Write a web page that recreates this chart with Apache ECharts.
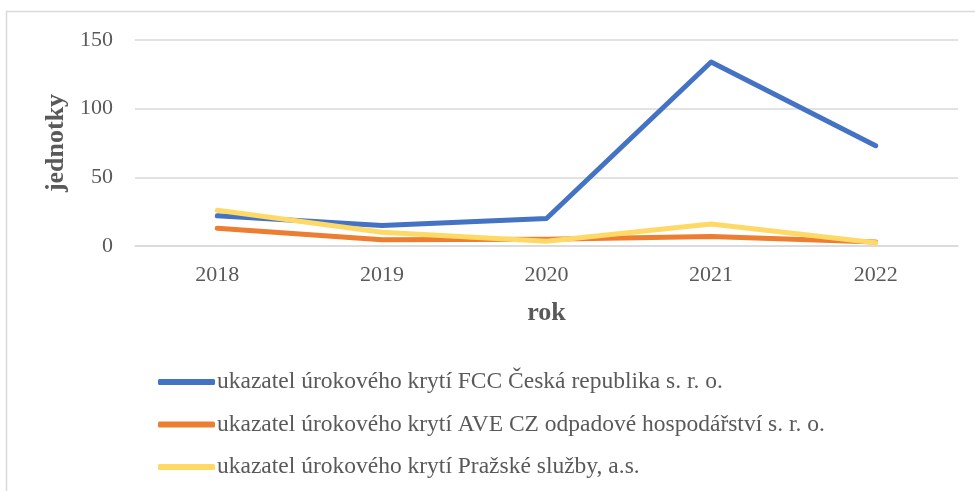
<!DOCTYPE html>
<html>
<head>
<meta charset="utf-8">
<script src="https://cdn.jsdelivr.net/npm/echarts@6/dist/echarts.min.js"></script>
<style>
  html, body { margin: 0; padding: 0; background: #ffffff; }
  #chart { width: 975px; height: 491px; }
</style>
</head>
<body>
<div id="chart"></div>
<script>
// data
const years = ["2018", "2019", "2020", "2021", "2022"];
const fccValues = [22, 15, 20, 134, 73];
const aveValues = [13, 4.5, 5, 7, 3];
const prazskeValues = [26, 10, 3.5, 16, 2.3];
const seriesNames = [
  "ukazatel úrokového krytí FCC Česká republika s. r. o.",
  "ukazatel úrokového krytí AVE CZ odpadové hospodářství s. r. o.",
  "ukazatel úrokového krytí Pražské služby, a.s."
];
const seriesColors = ["#4472C4", "#ED7D31", "#FFD966"];

const myChart = echarts.init(document.getElementById("chart"));
const font = "'Liberation Serif', 'Times New Roman', serif";

function lineSeries(i, data) {
  return {
    name: seriesNames[i],
    type: "line",
    data: data,
    showSymbol: false,
    symbol: "none",
    color: seriesColors[i],
    lineStyle: { width: 5, color: seriesColors[i], cap: "round", join: "round" },
    emphasis: { disabled: true }
  };
}

const option = {
  animation: false,
  backgroundColor: "#ffffff",
  textStyle: { fontFamily: font },
  graphic: [
    {
      type: "rect",
      shape: { x: 6.5, y: 11.5, width: 1000, height: 1000 },
      style: { fill: null, stroke: "#d9d9d9", lineWidth: 1.5 },
      silent: true
    }
  ],
  grid: { left: 135, right: 17, top: 40, bottom: 245 },
  legend: {
    orient: "vertical",
    left: 153,
    top: 365,
    itemWidth: 57,
    itemHeight: 6,
    itemGap: 18.5,
    icon: "roundRect",
    selectedMode: false,
    textStyle: { fontFamily: font, fontSize: 23.5, color: "#595959", lineHeight: 23.5, padding: [0, 0, 0, -3] },
    data: seriesNames
  },
  xAxis: {
    type: "category",
    data: years,
    boundaryGap: true,
    name: "rok",
    nameLocation: "middle",
    nameGap: 54,
    nameTextStyle: { fontFamily: font, fontSize: 26, fontWeight: "bold", color: "#595959" },
    axisLine: { show: true, lineStyle: { color: "#d9d9d9", width: 1.5 } },
    axisTick: { show: false },
    axisLabel: { fontFamily: font, fontSize: 22, color: "#595959", margin: 18 }
  },
  yAxis: {
    type: "value",
    min: 0,
    max: 150,
    interval: 50,
    name: "jednotky",
    nameLocation: "middle",
    nameGap: 64,
    nameRotate: 90,
    nameTextStyle: { fontFamily: font, fontSize: 26, fontWeight: "bold", color: "#595959" },
    axisLine: { show: false },
    axisTick: { show: false },
    axisLabel: { fontFamily: font, fontSize: 22, color: "#595959", margin: 22 },
    splitLine: { lineStyle: { color: "#d9d9d9", width: 1.5 } }
  },
  series: [
    lineSeries(0, fccValues),
    lineSeries(1, aveValues),
    lineSeries(2, prazskeValues)
  ]
};

myChart.setOption(option);
</script>
</body>
</html>
